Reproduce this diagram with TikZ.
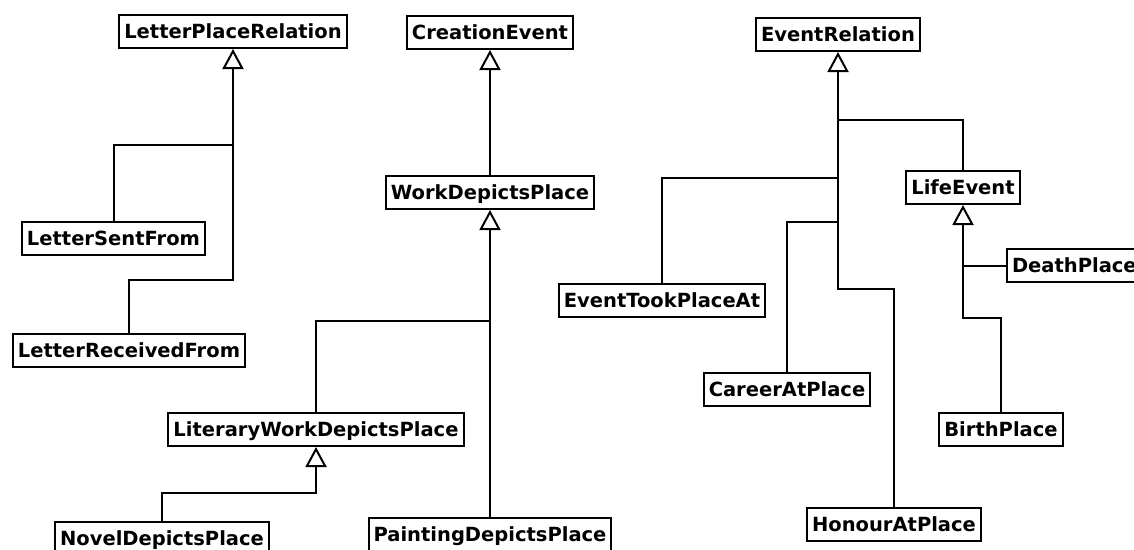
\documentclass[tikz,border=0pt]{standalone}
\usepackage{fontspec}
\newfontfamily\umlfont{DejaVu Sans}
\usetikzlibrary{arrows.meta}

\begin{document}
\begin{tikzpicture}[x=1pt, y=-1pt,
	cls/.style={draw, line width=2pt, fill=white, inner xsep=5pt, minimum height=33pt,
		text height=14.2pt, text depth=0pt, font=\umlfont\bfseries\fontsize{19.5}{22}\selectfont},
	gen/.style={-{Triangle[open, length=20pt, width=21pt, fill=white]}},
	line width=2pt]
	\useasboundingbox (0, 0) rectangle (1134, 549);
	\clip (0, 0) rectangle (1134, 549);

	\node (lpr) at (233, 31.5) [cls] {LetterPlaceRelation};
	\node (lsf) at (113.5, 238.5) [cls] {LetterSentFrom};
	\node (lrf) at (129, 350.5) [cls] {LetterReceivedFrom};
	\coordinate (lprmid) at (233, 145);
	\coordinate (lprjoin) at (233, 280);
	\draw (lsf.north) |- (lprmid);
	\draw[gen] (lrf.north) |- (lprjoin) -- (lpr.south);

	\node (ce) at (490, 32.5) [cls] {CreationEvent};
	\node (wdp) at (490, 192.5) [cls] {WorkDepictsPlace};
	\node (lwdp) at (316, 429.5) [cls] {LiteraryWorkDepictsPlace};
	\node (ndp) at (162, 538.5) [cls] {NovelDepictsPlace};
	\node (pdp) at (490, 534.5) [cls] {PaintingDepictsPlace};
	\coordinate (wdpmid) at (490, 321);
	\coordinate (lwdpjoin) at (316, 493);
	\draw[gen] (wdp.north) -- (ce.south);
	\draw[gen] (pdp.north) -- (wdp.south);
	\draw (lwdp.north) |- (wdpmid);
	\draw[gen] (ndp.north) |- (lwdpjoin) -- (lwdp.south);

	\node (er) at (838, 34.5) [cls] {EventRelation};
	\node (le) at (963, 187.5) [cls] {LifeEvent};
	\node (etpa) at (662, 300.5) [cls] {EventTookPlaceAt};
	\node (cap) at (787, 389.5) [cls] {CareerAtPlace};
	\node (hap) at (894, 524.5) [cls] {HonourAtPlace};
	\node (dp) at (1006, 265.5) [cls, anchor=west] {DeathPlace};
	\node (bp) at (1001, 429.5) [cls] {BirthPlace};
	\coordinate (erup) at (838, 120);
	\coordinate (ermid) at (838, 178);
	\coordinate (erlow) at (838, 222);
	\coordinate (erjoin) at (838, 289);
	\coordinate (lemid) at (963, 265.5);
	\coordinate (lejoin) at (963, 318);
	\draw (le.north) |- (erup);
	\draw (etpa.north) |- (ermid);
	\draw (cap.north) |- (erlow);
	\draw[gen] (hap.north) |- (erjoin) -- (er.south);
	\draw (dp.west) -- (lemid);
	\draw[gen] (bp.north) |- (lejoin) -- (le.south);
\end{tikzpicture}
\end{document}
